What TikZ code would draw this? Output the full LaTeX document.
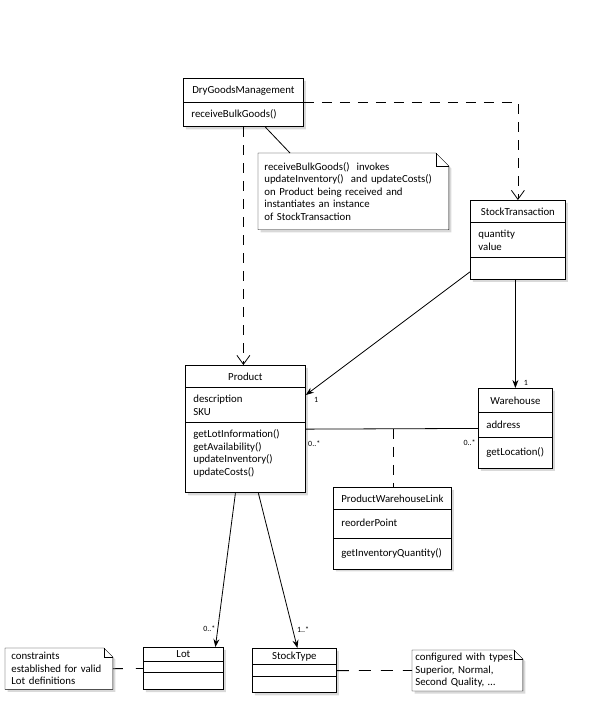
\documentclass[tikz,border=0pt]{standalone}
\usepackage{fontspec}
\setmainfont{Carlito}
\usetikzlibrary{arrows.meta,backgrounds,shapes.multipart,shadows}

\begin{document}
\begin{tikzpicture}[x=1pt, y=-1pt, line width=0.8pt,
    every node/.style={font=\fontsize{10.8}{12.5}\selectfont},
    umlclass/.style={draw, fill=white, align=left, rectangle split, rectangle split parts=3,
      rectangle split ignore empty parts=false, rectangle split empty part height=4pt,
      rectangle split part align={center,left,left}, inner xsep=8pt, inner ysep=7pt,
      anchor=north west, drop shadow={shadow xshift=2.5pt, shadow yshift=-2.5pt, opacity=0.3}},
    notetext/.style={align=left, anchor=north west, inner xsep=6pt, inner ysep=7pt},
    dep/.style={dash pattern=on 10pt off 8pt, -{Straight Barb[length=9pt, width=13pt]}},
    assoc/.style={-{Stealth[length=8pt, width=6pt]}},
    mult/.style={font=\fontsize{8}{9}\selectfont, inner sep=2pt}]
    \useasboundingbox (0,0) rectangle (599,710);

    % classes
    \node[umlclass, rectangle split parts=2, minimum width=120pt] (dgm) at (183,78) {DryGoodsManagement \nodepart{second} receiveBulkGoods()};
    \node[umlclass, minimum width=95pt] (stx) at (470,200) {StockTransaction \nodepart{second} quantity\\value \nodepart{third} \rule{0pt}{7pt}};
    \node[umlclass, minimum width=120pt] (prod) at (185,365) {Product \nodepart{second} description\\SKU \nodepart{third} getLotInformation()\\getAvailability()\\updateInventory()\\updateCosts()\rule[-10pt]{0pt}{10pt}};
    \node[umlclass, minimum width=74pt, inner ysep=8pt] (wh) at (478,388) {Warehouse \nodepart{second} address \nodepart{third} getLocation()\rule[-4.5pt]{0pt}{14.5pt}};
    \node[umlclass, minimum width=117pt] (pwl) at (333,487) {ProductWarehouseLink \nodepart{second} reorderPoint\rule[-4.5pt]{0pt}{14.3pt} \nodepart{third} getInventoryQuantity()\rule[-5pt]{0pt}{15.3pt}};
    \node[umlclass, minimum width=80pt, inner ysep=3pt] (lot) at (143,647) {Lot \nodepart{second} \nodepart{third} \rule{0pt}{10pt}};
    \node[umlclass, minimum width=84pt, inner ysep=3pt] (stype) at (252,648) {StockType \nodepart{second} \nodepart{third} \rule{0pt}{10pt}};

    % notes
    \node[notetext, text width=178pt, inner ysep=9pt] (remark) at (258,153) {receiveBulkGoods()\ \ invokes\\updateInventory()\ \ and updateCosts()\\on Product being received and\\instantiates an instance\\of StockTransaction};
    \node[notetext, text width=95pt, inner ysep=4pt] (lotnote) at (5,648) {constraints\\established for valid\\Lot definitions};
    \node[notetext, text width=104pt, inner xsep=3pt, inner ysep=3pt] (typenote) at (412,650) {configured with types\\Superior, Normal,\\Second Quality, \dots};
    \begin{scope}[on background layer]
      \foreach \n/\f in {remark/13pt, lotnote/9pt, typenote/9pt} {
        \draw[fill=white, drop shadow={shadow xshift=2.5pt, shadow yshift=-2.5pt, opacity=0.3}]
          (\n.north west) -- ([xshift=-\f]\n.north east) -- ([yshift=-\f]\n.north east)
          -- (\n.south east) -- (\n.south west) -- cycle;
        \draw ([xshift=-\f]\n.north east) -- ([xshift=-\f, yshift=-\f]\n.north east) -- ([yshift=-\f]\n.north east);
      }
    \end{scope}

    % dependencies
    \draw[dep] (dgm.east) -| (stx.north);
    \draw[dep] (dgm.south) -- (dgm.south |- prod.north);
    \draw ([xshift=22pt]dgm.south) -- ([xshift=32pt]remark.north west);

    % associations
    \draw[assoc] ([yshift=8pt]stx.south west) -- ([yshift=-30pt]prod.north east)
      node[mult, pos=1, anchor=north west, xshift=6pt] {1};
    \draw[assoc] (stx.south -| wh.north) -- (wh.north)
      node[mult, pos=1, anchor=south west, xshift=6pt] {1};
    \draw (prod.east) -- (wh.west)
      node[mult, pos=0, below right, yshift=-9pt] {0..*}
      node[mult, pos=1, below left, yshift=-9pt] {0..*}
      coordinate[pos=0.51] (linkpt);
    \draw[dash pattern=on 10pt off 8pt] (linkpt) -- (linkpt |- pwl.north);
    \draw[assoc] ([xshift=-10pt]prod.south) -- ([xshift=32pt]lot.north)
      node[mult, pos=0.88, left] {0..*};
    \draw[assoc] ([xshift=13pt]prod.south) -- ([xshift=3pt]stype.north)
      node[mult, pos=0.88, right, xshift=2pt] {1..*};

    % note links
    \draw[dash pattern=on 10pt off 13pt] (lotnote.east) -- (lot.west);
    \draw[dash pattern=on 12pt off 10pt] (stype.east) -- (typenote.west);
\end{tikzpicture}
\end{document}
